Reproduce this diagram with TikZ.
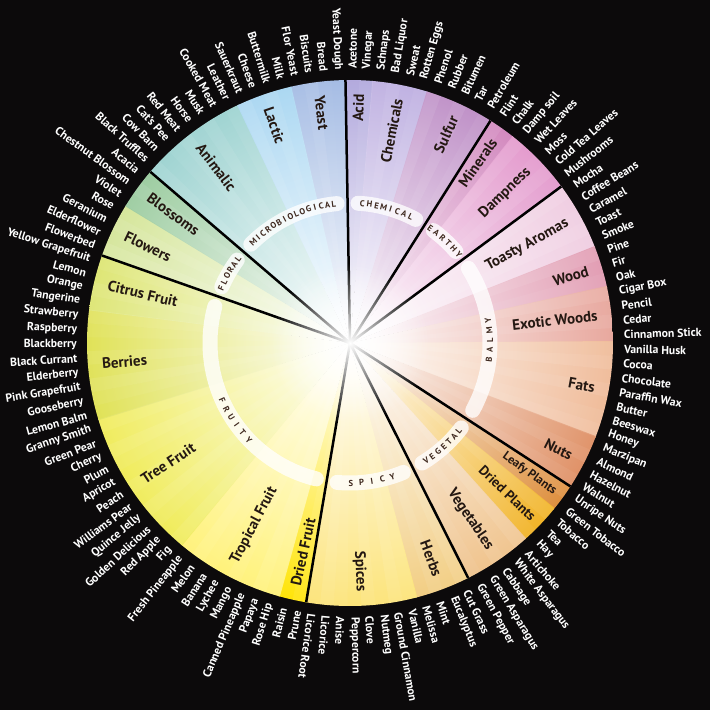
\documentclass[tikz,border=0pt]{standalone}
\usepackage{fontspec}
\setmainfont{PT Sans}
\usetikzlibrary{fadings}
\tikzfading[name=glowfade, inner color=transparent!0, outer color=transparent!100]
\definecolor{bgblack}{RGB}{12,10,11}
\definecolor{labdark}{RGB}{36,24,18}
\definecolor{ringtxt}{RGB}{62,40,30}
\definecolor{cYeast}{RGB}{165,188,228}
\definecolor{cLactic}{RGB}{172,216,242}
\definecolor{cAnimalic}{RGB}{160,212,210}
\definecolor{cBlossoms}{RGB}{156,204,160}
\definecolor{cFlowers}{RGB}{214,230,156}
\definecolor{cCitrus}{RGB}{222,230,118}
\definecolor{cBerries}{RGB}{224,226,88}
\definecolor{cTree}{RGB}{240,236,92}
\definecolor{cTropical}{RGB}{255,242,122}
\definecolor{cDriedFruit}{RGB}{255,228,10}
\definecolor{cSpices}{RGB}{252,228,122}
\definecolor{cHerbs}{RGB}{242,206,132}
\definecolor{cVeg}{RGB}{240,196,142}
\definecolor{cDriedPl}{RGB}{242,180,40}
\definecolor{cLeafy}{RGB}{222,142,60}
\definecolor{cNuts}{RGB}{224,146,104}
\definecolor{cFats}{RGB}{240,188,154}
\definecolor{cExotic}{RGB}{232,168,158}
\definecolor{cWood}{RGB}{226,158,180}
\definecolor{cToasty}{RGB}{240,206,226}
\definecolor{cDamp}{RGB}{228,156,206}
\definecolor{cMinerals}{RGB}{210,136,190}
\definecolor{cSulfur}{RGB}{192,146,200}
\definecolor{cChemicals}{RGB}{192,178,226}
\definecolor{cAcid}{RGB}{175,166,220}
\tikzset{
  outlbl/.style={text=white, inner sep=0pt, font=\bfseries\fontsize{11.7}{12}\selectfont},
  sublbl/.style={text=labdark, inner sep=0pt},
  ringseg/.style={draw=white, draw opacity=0.78, line width=15pt, line cap=round},
  ringlbl/.style={text=ringtxt, inner sep=0pt, font=\bfseries\fontsize{8.6}{9}\selectfont},
  divline/.style={draw=black, line width=2.5pt}
}
\newcommand\wheelsector[3]{%
  \pgfmathsetmacro\wsA{92.5-(#1-0.5)*3.02521+0.2}%
  \pgfmathsetmacro\wsB{92.5-(#2+0.5)*3.02521-0.2}%
  \begin{scope}
    \clip (0,0) -- (\wsA:263) arc[start angle=\wsA, end angle=\wsB, radius=263] -- cycle;
    \shade[inner color=white, outer color=#3] (0,0) circle (263);
  \end{scope}}
\newcommand\ringword[6]{%
  \foreach \ch [count=\j from 0] in {#2} {%
    \pgfmathsetmacro\ra{#4+((#3-1)/2-\j)*(#5)}%
    \node[ringlbl, rotate=\ra+(#6)] (#1\j) at (\ra:140) {\ch};
  }}
\begin{document}
\begin{tikzpicture}[x=1pt,y=1pt]
\fill[bgblack] (-350,-367) rectangle (360,343);
\useasboundingbox (-350,-367) rectangle (360,343);
% sectors
\wheelsector{-3}{0}{cYeast}
\wheelsector{1}{2}{cAcid}
\wheelsector{3}{6}{cChemicals}
\wheelsector{7}{11}{cSulfur}
\wheelsector{12}{13}{cMinerals}
\wheelsector{14}{18}{cDamp}
\wheelsector{19}{23}{cToasty}
\wheelsector{24}{26}{cWood}
\wheelsector{27}{30}{cExotic}
\wheelsector{31}{37}{cFats}
\wheelsector{38}{41}{cNuts}
\wheelsector{42}{43}{cLeafy}
\wheelsector{44}{46}{cDriedPl}
\wheelsector{47}{51}{cVeg}
\wheelsector{52}{55}{cHerbs}
\wheelsector{56}{63}{cSpices}
\wheelsector{64}{65}{cDriedFruit}
\wheelsector{66}{73}{cTropical}
\wheelsector{74}{84}{cTree}
\wheelsector{85}{92}{cBerries}
\wheelsector{93}{96}{cCitrus}
\wheelsector{97}{100}{cFlowers}
\wheelsector{101}{103}{cBlossoms}
\wheelsector{104}{111}{cAnimalic}
\wheelsector{112}{115}{cLactic}
% subtle per-aroma stripes
\foreach \k in {0,...,118} {
  \pgfmathsetmacro\sA{92.5-(\k-0.5)*3.02521}
  \pgfmathsetmacro\sB{92.5-(\k+0.5)*3.02521}
  \pgfmathsetmacro\so{0.025*mod(\k*7,5)}
  \fill[white, fill opacity=\so] (0,0) -- (\sA:263) arc[start angle=\sA, end angle=\sB, radius=263] -- cycle;
}
% dividing lines
\coordinate (ctr) at (0,0);
\foreach \k in {0,11,18,41,51,63,96,103} {
  \pgfmathsetmacro\la{92.5-(\k+0.5)*3.02521}
  \coordinate (rim\k) at (\la:263);
  \draw[divline] (ctr) -- (rim\k);
}
% glow
\fill[white, path fading=glowfade] (0,0) circle (80);
% ring segments
\foreach \ka/\kb in {104/119, 1/11, 12/18, 19/41, 42/51, 52/63, 64/96, 97/103} {
  \pgfmathsetmacro\rA{92.5-(\ka-0.5)*3.02521-4.3}
  \pgfmathsetmacro\rB{92.5-(\kb+0.5)*3.02521+4.3}
  \draw[ringseg] (\rA:140) arc[start angle=\rA, end angle=\rB, radius=140];
}
% ring words
\ringword{rmi}{M,I,C,R,O,B,I,O,L,O,G,I,C,A,L}{15}{115.2}{2.65}{-90}
\ringword{rch}{C,H,E,M,I,C,A,L}{8}{74.6}{2.95}{-90}
\ringword{rea}{E,A,R,T,H,Y}{6}{47}{3.2}{-90}
\ringword{rfl}{F,L,O,R,A,L}{6}{150}{2.75}{-90}
\ringword{rba}{B,A,L,M,Y}{5}{1.2}{-4.1}{90}
\ringword{rve}{V,E,G,E,T,A,L}{7}{-48}{-3.0}{90}
\ringword{rsp}{S,P,I,C,Y}{5}{-81}{-4.3}{90}
\ringword{rfr}{F,R,U,I,T,Y}{6}{214}{-3.9}{90}
% sub-category labels
\foreach \nm/\ka/\kb/\fs/\rr in {Yeast/-3/0/15/249, Acid/1/2/15/249, Chemicals/3/6/15/249,
  Sulfur/7/11/15/249, Minerals/12/13/15/249, Dampness/14/18/15/249,
  Toasty Aromas/19/23/15/249, Wood/24/26/15/249, Exotic Woods/27/30/15/249,
  Fats/31/37/15/249, Nuts/38/41/15/249, Leafy Plants/42/43/12.2/254,
  Dried Plants/44/46/13.8/254, Vegetables/47/51/15/249, Herbs/52/55/15/249,
  Spices/56/63/15/249, Dried Fruit/64/65/15/249, Tropical Fruit/66/73/15/249,
  Tree Fruit/74/84/15/249, Berries/85/92/15/249, Citrus Fruit/93/96/15/249,
  Flowers/97/100/15/249, Blossoms/101/103/15/249, Animalic/104/111/15/249,
  Lactic/112/115/15/249} {
  \pgfmathsetmacro\ac{92.5-(\ka+\kb)/2*3.02521}
  \pgfmathtruncatemacro\side{((\ka>0) && (\kb<64)) ? 1 : 0}
  \ifnum\side=1
    \node[sublbl, font=\bfseries\fontsize{\fs}{\fs}\selectfont, anchor=east, rotate=\ac] (sub\ka) at (\ac:\rr) {\nm};
  \else
    \node[sublbl, font=\bfseries\fontsize{\fs}{\fs}\selectfont, anchor=west, rotate=\ac+180] (sub\ka) at (\ac:\rr) {\nm};
  \fi
}
% outer labels
\foreach \t [count=\i from 0] in {Yeast Dough, Acetone, Vinegar, Schnaps, Bad Liquor, Sweat,
  Rotten Eggs, Phenol, Rubber, Bitumen, Tar, Petroleum, Flint, Chalk, Damp soil, Wet Leaves,
  Moss, Cold Tea Leaves, Mushrooms, Mocha, Coffee Beans, Caramel, Toast, Smoke, Pine, Fir, Oak,
  Cigar Box, Pencil, Cedar, Cinnamon Stick, Vanilla Husk, Cocoa, Chocolate, Paraffin Wax, Butter,
  Beeswax, Honey, Marzipan, Almond, Hazelnut, Walnut, Unripe Nuts, Green Tobacco, Tobacco, Tea,
  Hay, Artichoke, White Asparagus, Cabbage, Green Asparagus, Green Pepper, Cut Grass, Eucalyptus,
  Mint, Melissa, Vanilla, Ground Cinnamon, Nutmeg, Clove, Peppercorn, Anise, Licorice,
  Licorice Root, Prune, Raisin, Rose Hip, Papaya, Canned Pineapple, Mango, Lychee, Banana, Melon,
  Fresh Pineapple, Fig, Red Apple, Golden Delicious, Quince Jelly, Williams Pear, Peach, Apricot,
  Plum, Cherry, Green Pear, Granny Smith, Lemon Balm, Gooseberry, Pink Grapefruit, Elderberry,
  Black Currant, Blackberry, Raspberry, Strawberry, Tangerine, Orange, Lemon, Yellow Grapefruit,
  Flowerbed, Elderflower, Geranium, Rose, Violet, Chestnut Blossom, Acacia, Black Truffles,
  Cow Barn, Cat's Pee, Red Meat, Horse, Musk, Cooked Meat, Leather, Sauerkraut, Cheese,
  Buttermilk, Milk, Flor Yeast, Biscuits, Bread} {
  \pgfmathsetmacro\ang{92.5-\i*3.02521}
  \pgfmathtruncatemacro\side{((\i>0) && (\i<64)) ? 1 : 0}
  \ifnum\side=1
    \node[outlbl, anchor=west, rotate=\ang] (o\i) at (\ang:274) {\t};
  \else
    \node[outlbl, anchor=east, rotate=\ang+180] (o\i) at (\ang:273) {\t};
  \fi
}
\end{tikzpicture}
\end{document}
